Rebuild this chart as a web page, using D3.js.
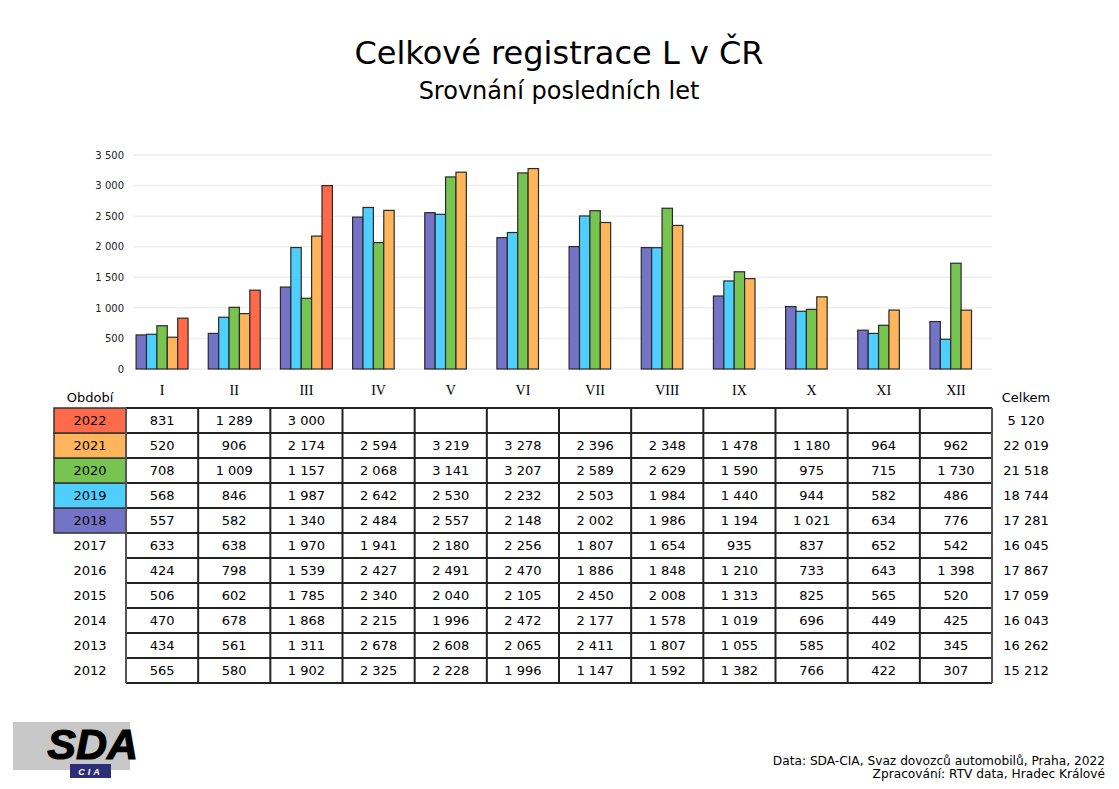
<!DOCTYPE html>
<html>
<head>
<meta charset="utf-8">
<script src="https://cdn.jsdelivr.net/npm/d3@7"></script>
<style>
  body { margin: 0; background: #fff; }
  svg { display: block; font-family: "DejaVu Sans", Verdana, sans-serif; }
</style>
</head>
<body>
<div id="chart"></div>
<script>
// chart size
const width = 1119;
const height = 789;

// months (columns)
const months = ["I", "II", "III", "IV", "V", "VI", "VII", "VIII", "IX", "X", "XI", "XII"];

// table rows, newest first
const years = [2022, 2021, 2020, 2019, 2018, 2017, 2016, 2015, 2014, 2013, 2012];
const v2022 = [831, 1289, 3000, null, null, null, null, null, null, null, null, null];
const v2021 = [520, 906, 2174, 2594, 3219, 3278, 2396, 2348, 1478, 1180, 964, 962];
const v2020 = [708, 1009, 1157, 2068, 3141, 3207, 2589, 2629, 1590, 975, 715, 1730];
const v2019 = [568, 846, 1987, 2642, 2530, 2232, 2503, 1984, 1440, 944, 582, 486];
const v2018 = [557, 582, 1340, 2484, 2557, 2148, 2002, 1986, 1194, 1021, 634, 776];
const v2017 = [633, 638, 1970, 1941, 2180, 2256, 1807, 1654, 935, 837, 652, 542];
const v2016 = [424, 798, 1539, 2427, 2491, 2470, 1886, 1848, 1210, 733, 643, 1398];
const v2015 = [506, 602, 1785, 2340, 2040, 2105, 2450, 2008, 1313, 825, 565, 520];
const v2014 = [470, 678, 1868, 2215, 1996, 2472, 2177, 1578, 1019, 696, 449, 425];
const v2013 = [434, 561, 1311, 2678, 2608, 2065, 2411, 1807, 1055, 585, 402, 345];
const v2012 = [565, 580, 1902, 2325, 2228, 1996, 1147, 1592, 1382, 766, 422, 307];
const totals = [5120, 22019, 21518, 18744, 17281, 16045, 17867, 17059, 16043, 16262, 15212];

// years drawn as bars, in bar order
const barYears = [2018, 2019, 2020, 2021, 2022];
const yearColors = {2022: "#ff6a4a", 2021: "#ffb55c", 2020: "#77c450", 2019: "#4fcfff", 2018: "#7373c8"};

const yTicks = [0, 500, 1000, 1500, 2000, 2500, 3000, 3500];

const rows = [v2022, v2021, v2020, v2019, v2018, v2017, v2016, v2015, v2014, v2013, v2012];
const byYear = {};
years.forEach((y, i) => byYear[y] = rows[i]);

// number format with space as thousands separator
const fmt = d3.formatLocale({decimal: ",", thousands: "\u00a0", grouping: [3], currency: ["", ""]}).format(",d");

const svg = d3.select("#chart").append("svg")
  .attr("width", width)
  .attr("height", height);

// titles
svg.append("text")
  .attr("x", 559).attr("y", 64)
  .attr("text-anchor", "middle")
  .style("font-size", "32px")
  .text("Celkové registrace L v ČR");
svg.append("text")
  .attr("x", 559).attr("y", 99)
  .attr("text-anchor", "middle")
  .style("font-size", "24px")
  .text("Srovnání posledních let");

// scales
const x0 = d3.scaleBand().domain(months).range([126, 992]).paddingInner(0).paddingOuter(0);
const x1 = d3.scaleBand().domain(barYears).range([x0.bandwidth() * 0.14, x0.bandwidth() * 0.86]);
const y = d3.scaleLinear().domain([0, 3500]).range([369, 155]);

// grid
svg.append("g")
  .selectAll("line")
  .data(yTicks)
  .join("line")
    .attr("x1", 133).attr("x2", 992)
    .attr("y1", d => y(d)).attr("y2", d => y(d))
    .attr("stroke", "#efefef")
    .attr("stroke-width", 1.5);

// y axis
const yAxis = svg.append("g")
  .attr("transform", "translate(124,0)")
  .call(d3.axisLeft(y).tickValues(yTicks).tickSize(0).tickPadding(0).tickFormat(fmt));
yAxis.select(".domain").remove();
yAxis.selectAll("text")
  .style("font-family", "DejaVu Sans, Verdana, sans-serif")
  .style("font-size", "10px")
  .attr("fill", "#222");

// bars
const group = svg.append("g")
  .selectAll("g")
  .data(months)
  .join("g")
    .attr("transform", d => `translate(${x0(d)},0)`);

group.selectAll("rect")
  .data((m, i) => barYears.map(yr => ({year: yr, value: byYear[yr][i]})).filter(d => d.value != null))
  .join("rect")
    .attr("x", d => x1(d.year))
    .attr("y", d => y(d.value))
    .attr("width", x1.bandwidth())
    .attr("height", d => y(0) - y(d.value))
    .attr("fill", d => yearColors[d.year])
    .attr("stroke", "#2a2a2a")
    .attr("stroke-width", 1.2);

// month labels (also table header)
svg.append("g")
  .selectAll("text")
  .data(months)
  .join("text")
    .attr("x", d => x0(d) + x0.bandwidth() / 2)
    .attr("y", 395)
    .attr("text-anchor", "middle")
    .style("font-family", "'Liberation Serif', 'Times New Roman', serif")
    .style("font-size", "14px")
    .text(d => d);

svg.append("text")
  .attr("x", 90).attr("y", 402)
  .attr("text-anchor", "middle")
  .style("font-size", "13px")
  .text("Období");
svg.append("text")
  .attr("x", 1026).attr("y", 402)
  .attr("text-anchor", "middle")
  .style("font-size", "13px")
  .text("Celkem");

// table
const rowH = 25;
const tableTop = 408;
const ry = d3.scaleBand().domain(years).range([tableTop, tableTop + rowH * years.length]);

const table = svg.append("g");

// coloured year cells
table.selectAll("rect.year")
  .data(barYears)
  .join("rect")
    .attr("class", "year")
    .attr("x", 54).attr("y", d => ry(d))
    .attr("width", 126 - 54).attr("height", ry.bandwidth())
    .attr("fill", d => yearColors[d])
    .attr("stroke", "#333")
    .attr("stroke-width", 1.5);

// horizontal lines
table.selectAll("line.h")
  .data(d3.range(years.length + 1))
  .join("line")
    .attr("class", "h")
    .attr("x1", 126).attr("x2", 992)
    .attr("y1", i => tableTop + i * rowH).attr("y2", i => tableTop + i * rowH)
    .attr("stroke", "#222")
    .attr("stroke-width", 2);

// vertical lines
table.selectAll("line.v")
  .data(d3.range(months.length + 1))
  .join("line")
    .attr("class", "v")
    .attr("x1", i => 126 + i * x0.bandwidth()).attr("x2", i => 126 + i * x0.bandwidth())
    .attr("y1", tableTop).attr("y2", tableTop + rowH * years.length)
    .attr("stroke", i => (i === 0 || i === months.length) ? "#555" : "#222")
    .attr("stroke-width", 2);

// year labels
table.selectAll("text.yl")
  .data(years)
  .join("text")
    .attr("class", "yl")
    .attr("x", 90).attr("y", d => ry(d) + rowH / 2)
    .attr("dy", "0.36em")
    .attr("text-anchor", "middle")
    .style("font-size", "13px")
    .text(d => d);

// cell values
const cells = [];
years.forEach((yr, r) => rows[r].forEach((v, c) => { if (v != null) cells.push({year: yr, month: months[c], value: v}); }));
table.selectAll("text.cell")
  .data(cells)
  .join("text")
    .attr("class", "cell")
    .attr("x", d => x0(d.month) + x0.bandwidth() / 2)
    .attr("y", d => ry(d.year) + rowH / 2)
    .attr("dy", "0.36em")
    .attr("text-anchor", "middle")
    .style("font-size", "13px")
    .text(d => fmt(d.value));

// totals
table.selectAll("text.tot")
  .data(totals)
  .join("text")
    .attr("class", "tot")
    .attr("x", 1026)
    .attr("y", (d, i) => ry(years[i]) + rowH / 2)
    .attr("dy", "0.36em")
    .attr("text-anchor", "middle")
    .style("font-size", "13px")
    .text(d => fmt(d));

// logo
const logo = svg.append("g");
logo.append("rect").attr("x", 13).attr("y", 722).attr("width", 117).attr("height", 48).attr("fill", "#c8c8c8");
logo.append("text")
  .attr("x", 138).attr("y", 759)
  .attr("text-anchor", "end")
  .style("font-family", "'Liberation Sans', Arial, sans-serif")
  .style("font-weight", "bold")
  .style("font-style", "italic")
  .style("font-size", "43px")
  .style("stroke", "#000")
  .style("stroke-width", "1.2px")
  .text("SDA");
logo.append("rect").attr("x", 70).attr("y", 764).attr("width", 41).attr("height", 14).attr("fill", "#2e2e78");
logo.append("text")
  .attr("x", 90.5).attr("y", 775)
  .attr("text-anchor", "middle")
  .attr("fill", "#fff")
  .style("font-family", "'Liberation Sans', Arial, sans-serif")
  .style("font-weight", "bold")
  .style("font-style", "italic")
  .style("font-size", "9px")
  .style("letter-spacing", "3px")
  .text("CIA");

// footer
svg.append("text")
  .attr("x", 1105).attr("y", 765)
  .attr("text-anchor", "end")
  .style("font-size", "12.2px")
  .text("Data: SDA-CIA, Svaz dovozců automobilů, Praha, 2022");
svg.append("text")
  .attr("x", 1105).attr("y", 778)
  .attr("text-anchor", "end")
  .style("font-size", "12.2px")
  .text("Zpracování: RTV data, Hradec Králové");
</script>
</body>
</html>
